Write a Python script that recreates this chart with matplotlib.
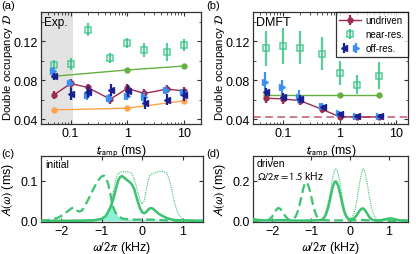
import numpy as np
import matplotlib
matplotlib.use("Agg")
import matplotlib.pyplot as plt
from matplotlib.legend_handler import HandlerTuple
from matplotlib.ticker import MultipleLocator, LogLocator, NullFormatter, FixedLocator

plt.rcParams['font.family'] = ['Liberation Sans', 'DejaVu Sans']
plt.rcParams['mathtext.fontset'] = 'stixsans'
plt.rcParams['font.size'] = 9

# ---------------- data: panel (a) experiment ----------------
t_a = [0.05, 0.1, 0.2, 0.5, 1, 2, 5, 10]
undriven_a = [0.0646, 0.0766, 0.0725, 0.0605, 0.0715, 0.0664, 0.0708, 0.069]
undriven_a_err = [0.004, 0.005, 0.004, 0.005, 0.005, 0.005, 0.004, 0.004]
near_a = [0.0957, 0.0964, 0.132, 0.1026, 0.118, 0.111, 0.109, 0.116]
near_a_err = [0.005, 0.006, 0.007, 0.005, 0.005, 0.007, 0.009, 0.006]
offd_a = [0.0838, 0.0656, 0.068, 0.070, 0.069, 0.0564, 0.060, 0.0646]
offd_a_err = [0.004, 0.006, 0.006, 0.006, 0.006, 0.006, 0.006, 0.006]
offl_a = [0.0895, 0.0776, 0.0646, 0.0612, 0.064, 0.063, 0.070, 0.0674]
offl_a_err = [0.004, 0.004, 0.005, 0.005, 0.004, 0.005, 0.004, 0.004]
t_ref = [0.05, 1, 10]
green_ref_a = [0.084, 0.0905, 0.0945]
green_ref_a_err = [0.002, 0.002, 0.002]
orange_ref_a = [0.0495, 0.0512, 0.0588]
orange_ref_a_err = [0.001, 0.001, 0.001]

# ---------------- data: panel (b) DMFT ----------------
t_b = [0.05, 0.1, 0.2, 0.5, 1, 2, 5]
undriven_b = [0.0615, 0.0608, 0.059, 0.050, 0.0424, 0.0422, 0.0422]
undriven_b_err = [0.005, 0.005, 0.005, 0.004, 0.002, 0.001, 0.001]
near_b = [0.1127, 0.115, 0.1134, 0.1072, 0.0875, 0.0753, 0.0847]
near_b_err = [0.018, 0.0185, 0.017, 0.017, 0.0125, 0.010, 0.014]
offd_b = [0.0677, 0.063, 0.0605, 0.052, 0.045, 0.043, 0.043]
offd_b_err = [0.004, 0.004, 0.004, 0.003, 0.002, 0.002, 0.002]
offl_b = [0.078, 0.0725, 0.063, 0.053, 0.046, 0.043, 0.043]
offl_b_err = [0.010, 0.008, 0.007, 0.004, 0.002, 0.002, 0.002]
t_ref_b = [0.05, 1, 5]
green_ref_b = [0.065, 0.065, 0.065]
undriven_eq_b = 0.042

# ---------------- data: panel (c) spectra, initial ----------------
w_c_solid = [-2.5, -1.5, -1.2, -1.0, -0.9, -0.8, -0.75, -0.7, -0.65, -0.6, -0.55, -0.5,
             -0.45, -0.4, -0.35, -0.3, -0.25, -0.2, -0.15, -0.1, -0.05, 0.0, 0.05, 0.1,
             0.15, 0.2, 0.25, 0.3, 0.4, 0.5, 0.6, 0.7, 0.8, 1.0, 1.5]
A_c_solid = [0.0, 0.0, 0.001, 0.005, 0.012, 0.03, 0.043, 0.06, 0.08, 0.099, 0.109, 0.112,
             0.108, 0.104, 0.100, 0.096, 0.090, 0.080, 0.062, 0.045, 0.030, 0.021, 0.019, 0.022,
             0.028, 0.032, 0.031, 0.027, 0.018, 0.012, 0.007, 0.004, 0.002, 0.001, 0.0]
w_c_dashed = [-2.5, -2.3, -2.2, -2.1, -2.0, -1.9, -1.8, -1.75, -1.7, -1.65, -1.6, -1.55, -1.5,
              -1.45, -1.4, -1.3, -1.2, -1.1, -1.05, -1.0, -0.95, -0.9, -0.85, -0.8, -0.75,
              -0.7, -0.65, -0.6, -0.5, -0.4, -0.2, 0.0, 0.2, 0.4, 0.6, 1.0, 1.5]
A_c_dashed = [0.0, 0.002, 0.004, 0.007, 0.012, 0.019, 0.027, 0.031, 0.033, 0.030, 0.025, 0.023, 0.025,
              0.031, 0.040, 0.060, 0.081, 0.099, 0.106, 0.111, 0.113, 0.108, 0.095, 0.075, 0.046,
              0.030, 0.019, 0.012, 0.006, 0.004, 0.003, 0.003, 0.003, 0.002, 0.001, 0.0, 0.0]
w_c_dotted = [-2.5, -1.0, -0.9, -0.8, -0.75, -0.7, -0.65, -0.6, -0.5, -0.4, -0.3, -0.25, -0.2,
              -0.15, -0.1, -0.05, 0.0, 0.05, 0.1, 0.15, 0.2, 0.3, 0.4, 0.5, 0.6, 0.65, 0.7,
              0.75, 0.8, 0.85, 0.9, 1.0, 1.1, 1.5]
A_c_dotted = [0.0, 0.004, 0.012, 0.035, 0.055, 0.08, 0.105, 0.118, 0.123, 0.123, 0.121, 0.117, 0.105,
              0.088, 0.068, 0.050, 0.042, 0.050, 0.078, 0.103, 0.115, 0.120, 0.123, 0.124, 0.120, 0.108, 0.090,
              0.067, 0.045, 0.027, 0.015, 0.004, 0.001, 0.0]

# ---------------- data: panel (d) spectra, driven ----------------
w_d_solid = [-2.5, -2.4, -2.3, -2.2, -2.0, -1.8, -1.6, -1.4, -1.2, -1.0, -0.9, -0.8, -0.75, -0.7,
             -0.65, -0.6, -0.55, -0.5, -0.45, -0.4, -0.37, -0.35, -0.3, -0.25, -0.2, -0.15, -0.1,
             -0.05, 0.0, 0.05, 0.1, 0.15, 0.2, 0.25, 0.3, 0.33, 0.35, 0.4, 0.45, 0.5, 0.55, 0.6,
             0.7, 0.8, 0.9, 1.0, 1.05, 1.1, 1.2, 1.3, 1.5]
A_d_solid = [0.010, 0.006, 0.004, 0.003, 0.003, 0.004, 0.003, 0.002, 0.002, 0.002, 0.003, 0.004, 0.005, 0.008,
             0.020, 0.042, 0.075, 0.118, 0.165, 0.193, 0.198, 0.196, 0.175, 0.135, 0.090, 0.050, 0.025,
             0.012, 0.008, 0.008, 0.012, 0.022, 0.036, 0.052, 0.061, 0.063, 0.062, 0.052, 0.036, 0.020, 0.010, 0.005,
             0.003, 0.004, 0.008, 0.012, 0.013, 0.012, 0.007, 0.003, 0.002]
w_d_dashed = [-2.5, -2.2, -2.1, -2.05, -2.0, -1.95, -1.9, -1.85, -1.8, -1.75, -1.7, -1.65, -1.6, -1.55,
              -1.5, -1.45, -1.4, -1.35, -1.3, -1.25, -1.2, -1.15, -1.1, -1.05, -1.0, -0.95, -0.9,
              -0.85, -0.8, -0.7, -0.5, -0.2, 0.0, 0.2, 0.3, 0.4, 0.6, 1.0, 1.5]
A_d_dashed = [0.002, 0.002, 0.006, 0.012, 0.024, 0.040, 0.056, 0.065, 0.062, 0.050, 0.034, 0.020, 0.010, 0.006,
              0.006, 0.010, 0.022, 0.045, 0.080, 0.120, 0.165, 0.193, 0.190, 0.165, 0.125, 0.080, 0.045,
              0.022, 0.010, 0.004, 0.003, 0.003, 0.003, 0.004, 0.005, 0.004, 0.002, 0.001, 0.0]
w_d_dotted = [-2.5, -1.2, -1.05, -1.0, -0.9, -0.8, -0.7, -0.65, -0.6, -0.55, -0.5, -0.45, -0.4, -0.37,
              -0.33, -0.3, -0.25, -0.2, -0.15, -0.1, -0.05, 0.0, 0.05, 0.1, 0.15, 0.2, 0.25, 0.3,
              0.33, 0.36, 0.4, 0.45, 0.5, 0.55, 0.6, 0.65, 0.7, 0.8, 1.0, 1.5]
A_d_dotted = [0.0, 0.002, 0.006, 0.008, 0.005, 0.003, 0.012, 0.030, 0.060, 0.100, 0.150, 0.210, 0.250, 0.262,
              0.255, 0.235, 0.185, 0.125, 0.070, 0.035, 0.015, 0.010, 0.015, 0.035, 0.070, 0.125, 0.190, 0.240,
              0.262, 0.258, 0.235, 0.185, 0.125, 0.075, 0.040, 0.020, 0.008, 0.003, 0.002, 0.0]

# ---------------- styles ----------------
c_und = '#9c2b4e'
c_near = '#3cc38a'
c_ref = '#64b040'
c_orange = '#ffa24a'
c_dark = '#1c1f8f'
c_light = '#3b8ff2'
c_spec = '#3cc271'
c_fill = '#8cf0d4'
frame_c = '#333333'

fig = plt.figure(figsize=(4.16, 2.55), dpi=100)
W, H = 416.0, 255.0
def ax_at(l, r, t, b):
    return fig.add_axes([l / W, 1 - b / H, (r - l) / W, (b - t) / H])

ax_a = ax_at(41, 201, 13, 125)
ax_b = ax_at(253, 408, 13, 125)
ax_c = ax_at(41, 203, 157, 223)
ax_d = ax_at(253, 408, 157, 223)

def style(ax):
    for s in ax.spines.values():
        s.set_color(frame_c)
        s.set_linewidth(0.9)
    ax.tick_params(which='both', direction='in', top=True, right=True, color=frame_c,
                   labelsize=9, pad=2.5)
    ax.tick_params(which='major', length=3, width=0.8)
    ax.tick_params(which='minor', length=1.8, width=0.6)

ekw = dict(elinewidth=1.6, capsize=0)

# ---------------- panel (a) ----------------
ax = ax_a
ax.set_xscale('log')
ax.set_xlim(0.03, 20)
ax.set_ylim(0.035, 0.15)
ax.axvspan(0.03, 0.11, color='#e3e3e3', lw=0, zorder=0)
ax.errorbar(t_ref, orange_ref_a, yerr=orange_ref_a_err, color=c_orange, marker='o', ms=3.5,
            lw=1.0, elinewidth=1.0, zorder=2)
ax.errorbar(t_ref, green_ref_a, yerr=green_ref_a_err, color=c_ref, marker='o', ms=3.5,
            lw=1.0, elinewidth=1.0, zorder=2)
ax.errorbar(t_a, undriven_a, yerr=undriven_a_err, color=c_und, marker='o', ms=3.5,
            lw=1.0, zorder=3, **ekw)
ax.errorbar(t_a, near_a, yerr=near_a_err, color=c_near, marker='s', ms=4.5, mfc='none',
            mew=1.1, ls='none', alpha=0.85, zorder=3, **ekw)
ax.errorbar(np.array(t_a) * 0.97, offl_a, yerr=offl_a_err, color=c_light, marker='>', ms=4.5,
            ls='none', zorder=4, **ekw)
ax.errorbar(np.array(t_a) * 1.02, offd_a, yerr=offd_a_err, color=c_dark, marker='<', ms=4.5,
            ls='none', zorder=5, **ekw)
ax.text(0.034, 0.146, 'Exp.', ha='left', va='top', fontsize=8.5)

# ---------------- panel (b) ----------------
ax = ax_b
ax.set_xscale('log')
ax.set_xlim(0.03, 16)
ax.set_ylim(0.035, 0.15)
ax.axhline(undriven_eq_b, color='#c25a6a', ls=(0, (5, 3)), lw=1.1, zorder=1)
ax.plot(t_ref_b, green_ref_b, color=c_ref, marker='o', ms=3.5, lw=1.0, zorder=2)
h_und = ax.errorbar(t_b, undriven_b, yerr=undriven_b_err, color=c_und, marker='o', ms=3.5,
                    lw=1.0, zorder=3, **ekw)
h_near = ax.errorbar(t_b, near_b, yerr=near_b_err, color=c_near, marker='s', ms=4.5, mfc='none',
                     mew=1.1, ls='none', alpha=0.85, zorder=3, **ekw)
h_l = ax.errorbar(np.array(t_b) * 0.97, offl_b, yerr=offl_b_err, color=c_light, marker='>', ms=4.5,
                  ls='none', zorder=4, **ekw)
h_d = ax.errorbar(np.array(t_b) * 1.02, offd_b, yerr=offd_b_err, color=c_dark, marker='<', ms=4.5,
                  ls='none', zorder=5, **ekw)
ax.text(0.034, 0.146, 'DMFT', ha='left', va='top', fontsize=9)
leg = ax.legend([h_und, h_near, (h_d, h_l)], ['undriven', 'near-res.', 'off-res.'],
                handler_map={tuple: HandlerTuple(ndivide=None, pad=0.3)},
                loc='upper right', borderaxespad=0, fontsize=7, frameon=True, fancybox=False,
                handlelength=2.2, handletextpad=0.5, borderpad=0.35, labelspacing=0.4)
leg.get_frame().set_edgecolor('black')
leg.get_frame().set_linewidth(0.9)

for ax, xr in ((ax_a, 15.5), (ax_b, 227.0)):
    style(ax)
    ax.yaxis.set_major_locator(FixedLocator([0.04, 0.08, 0.12]))
    ax.yaxis.set_minor_locator(MultipleLocator(0.02))
    ax.set_yticklabels(['0.04', '0.08', '0.12'])
    ax.xaxis.set_major_locator(LogLocator(base=10, numticks=10))
    ax.xaxis.set_minor_locator(LogLocator(base=10, subs=np.arange(2, 10), numticks=10))
    ax.xaxis.set_minor_formatter(NullFormatter())
    ax.set_xticks([0.1, 1, 10])
    ax.set_xticklabels(['0.1', '1', '10'])
    ax.set_xlabel(r'$t_{\mathrm{ramp}}$ (ms)', fontsize=9, labelpad=2)
    ax.set_ylabel(r'Double occupancy $\mathcal{D}$', fontsize=8.2)
    ax.yaxis.set_label_coords(xr / W, 1 - 67 / H, transform=fig.transFigure)

# ---------------- panel (c) ----------------
ax = ax_c
ax.set_xlim(-2.5, 1.5)
ax.set_ylim(-0.003, 0.162)
wf = np.array(w_c_solid)
fill_top = np.minimum(np.array(A_c_solid), np.interp(wf, w_c_dashed, A_c_dashed))
ax.fill_between(wf, 0, fill_top, color=c_fill, lw=0, zorder=1)
ax.plot(w_c_dotted, A_c_dotted, color=c_spec, lw=0.8, ls=(0, (1, 1)), zorder=2)
ax.plot(w_c_dashed, A_c_dashed, color=c_spec, lw=1.6, ls=(0, (4, 2)), zorder=3)
ax.plot(w_c_solid, A_c_solid, color=c_spec, lw=1.8, zorder=4)
ax.text(-2.4, 0.155, 'initial', ha='left', va='top', fontsize=7.5)
ax.set_yticks([0.0, 0.1])
ax.set_yticklabels(['0.0', '0.1'])

# ---------------- panel (d) ----------------
ax = ax_d
ax.set_xlim(-2.5, 1.5)
ax.set_ylim(-0.005, 0.325)
ax.plot(w_d_dotted, A_d_dotted, color=c_spec, lw=0.8, ls=(0, (1, 1)), zorder=2)
ax.plot(w_d_dashed, A_d_dashed, color=c_spec, lw=1.6, ls=(0, (4, 2)), zorder=3)
ax.plot(w_d_solid, A_d_solid, color=c_spec, lw=1.8, zorder=4)
ax.text(-2.4, 0.315, 'driven', ha='left', va='top', fontsize=7.5)
ax.text(-2.4, 0.258, r'$\Omega/2\pi = 1.5$ kHz', ha='left', va='top', fontsize=7.5)
ax.set_yticks([0.0, 0.2])
ax.set_yticklabels(['0.0', '0.2'])

for ax in (ax_c, ax_d):
    style(ax)
    ax.set_xticks([-2, -1, 0, 1])
    ax.set_xticklabels(['\u22122', '\u22121', '0', '1'])
    ax.set_xlabel(r'$\omega/2\pi$ (kHz)', fontsize=9, labelpad=1)
    ax.set_ylabel(r'$A(\omega)$ (ms)', fontsize=9, labelpad=3)

# panel labels
fig.text(1 / W, 1 - 1 / H, '(a)', ha='left', va='top', fontsize=8)
fig.text(206 / W, 1 - 1 / H, '(b)', ha='left', va='top', fontsize=8)
fig.text(1 / W, 1 - 149 / H, '(c)', ha='left', va='top', fontsize=8)
fig.text(206 / W, 1 - 149 / H, '(d)', ha='left', va='top', fontsize=8)

fig.savefig('out.png', dpi=100)
